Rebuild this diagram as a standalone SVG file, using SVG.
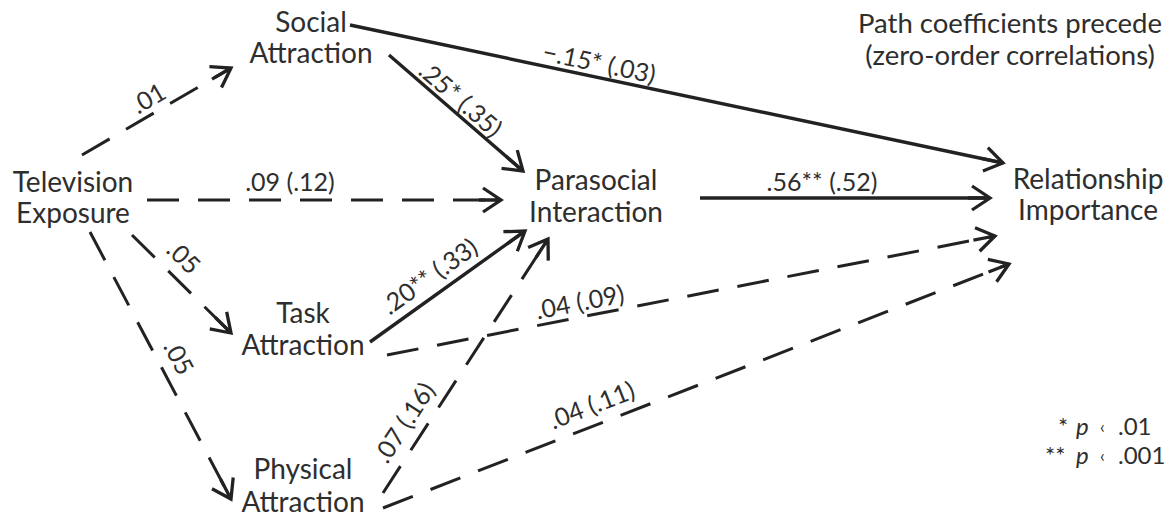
<svg xmlns="http://www.w3.org/2000/svg" width="1171" height="518" viewBox="0 0 1171 518">
<style>
.node{font-family:Lato,"Open Sans","Liberation Sans",sans-serif;font-size:28px;fill:#2e2e2e;text-anchor:middle}
.lbl{font-family:Lato,"Open Sans","Liberation Sans",sans-serif;font-size:25px;fill:#2e2e2e;text-anchor:middle}
.note{font-family:Lato,"Open Sans","Liberation Sans",sans-serif;font-size:27.5px;fill:#2e2e2e}
.solid{stroke:#222;stroke-width:3.4;fill:none}
.dash{stroke:#222;stroke-width:3;fill:none;stroke-dasharray:32 19}
</style>
<defs>
<marker id="ah" viewBox="-26 -15 30 30" refX="0" refY="0" markerWidth="30" markerHeight="30" markerUnits="userSpaceOnUse" orient="auto">
<path d="M-18,-12 L0,0 L-18,12 M-22,0 L0,0" fill="none" stroke="#222" stroke-width="3.3" stroke-dasharray="none" stroke-linejoin="miter"/>
</marker>
</defs>
<rect width="1171" height="518" fill="#fff"/>
<g id="connectors">
<line class="dash" x1="82" y1="155" x2="231" y2="68" marker-end="url(#ah)"/>
<line class="dash" x1="147" y1="200" x2="501" y2="200" marker-end="url(#ah)"/>
<line class="solid" x1="389" y1="55" x2="523" y2="171" marker-end="url(#ah)"/>
<line class="solid" x1="350" y1="25" x2="1003" y2="163" marker-end="url(#ah)"/>
<line class="solid" x1="700" y1="198" x2="990" y2="198" marker-end="url(#ah)"/>
<line class="dash" x1="132" y1="235" x2="231" y2="333" marker-end="url(#ah)"/>
<line class="dash" x1="90" y1="232" x2="231" y2="499" marker-end="url(#ah)"/>
<line class="solid" x1="370" y1="342" x2="525" y2="231" marker-end="url(#ah)"/>
<line class="dash" x1="387" y1="355" x2="995" y2="236" marker-end="url(#ah)"/>
<line class="dash" x1="383" y1="493" x2="548" y2="239" marker-end="url(#ah)"/>
<line class="dash" x1="383" y1="508" x2="1009" y2="264" marker-end="url(#ah)"/>
<text class="lbl" transform="translate(149,99) rotate(-30.2)" y="8">.01</text>
<text class="lbl" x="290" y="191">.09 (.12)</text>
<text class="lbl" transform="translate(460,100) rotate(40.9)" y="8">.25* (.35)</text>
<text class="lbl" transform="translate(599,64) rotate(11.9)" y="8">−.15* (.03)</text>
<text class="lbl" x="822" y="191">.56** (.52)</text>
<text class="lbl" transform="translate(183,258) rotate(44.7)" y="8">.05</text>
<text class="lbl" transform="translate(178,358) rotate(62.2)" y="8">.05</text>
<text class="lbl" transform="translate(430,277) rotate(-35.5)" y="8">.20** (.33)</text>
<text class="lbl" transform="translate(580,303) rotate(-11)" y="8">.04 (.09)</text>
<text class="lbl" transform="translate(405,423) rotate(-57)" y="8">.07 (.16)</text>
<text class="lbl" transform="translate(592,406) rotate(-21.3)" y="8">.04 (.11)</text>
</g>
<g id="social"><text class="node" x="311" y="32">Social</text><text class="node" x="311" y="63">Attraction</text></g>
<g id="television"><text class="node" x="73" y="192">Television</text><text class="node" x="73" y="223">Exposure</text></g>
<g id="parasocial"><text class="node" x="596" y="190">Parasocial</text><text class="node" x="596" y="222">Interaction</text></g>
<g id="relationship"><text class="node" x="1088" y="189">Relationship</text><text class="node" x="1088" y="220">Importance</text></g>
<g id="task"><text class="node" x="303" y="323">Task</text><text class="node" x="303" y="355">Attraction</text></g>
<g id="physical"><text class="node" x="303" y="479">Physical</text><text class="node" x="303" y="512">Attraction</text></g>
<g id="note"><text class="note" x="1010" y="33" text-anchor="middle">Path coefficients precede</text><text class="note" x="1010" y="65" text-anchor="middle">(zero-order correlations)</text></g>
<g id="legend" class="note" style="font-size:24px">
<text y="435"><tspan x="1058">*</tspan><tspan x="1076" font-style="italic">p</tspan><tspan x="1100" font-size="17" dy="-2">‹</tspan><tspan x="1118" dy="2">.01</tspan></text>
<text y="464"><tspan x="1045">**</tspan><tspan x="1076" font-style="italic">p</tspan><tspan x="1100" font-size="17" dy="-2">‹</tspan><tspan x="1118" dy="2">.001</tspan></text>
</g>
</svg>
